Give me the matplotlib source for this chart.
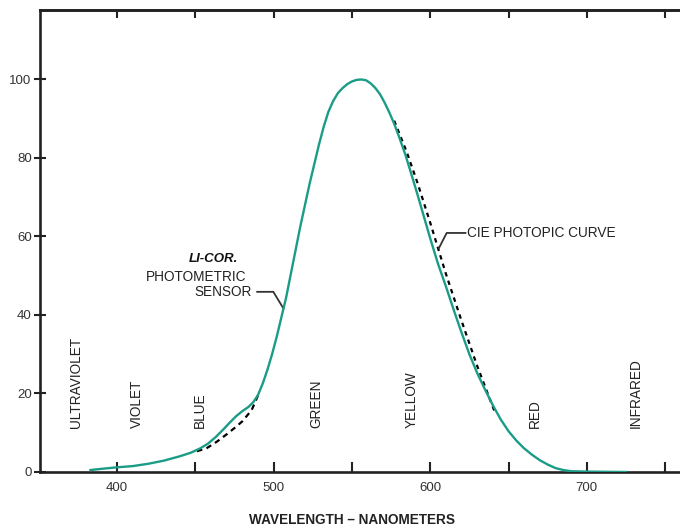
import matplotlib
matplotlib.use("Agg")
import matplotlib.pyplot as plt

plt.rcParams["font.family"] = ["Liberation Sans", "DejaVu Sans"]

# LI-COR photometric sensor response
sensor_nm = [383, 390, 400, 410, 420, 430, 440, 447, 453, 458, 463, 468, 472, 476,
             480, 484, 487, 490, 493, 496, 499, 502, 505, 508, 511, 514, 517, 520,
             523, 526, 529, 532, 535, 538, 541, 544, 547, 550, 553, 556, 559, 562,
             565, 568, 571, 574, 577, 580, 584, 588, 592, 596, 600, 605, 610, 615,
             620, 625, 630, 635, 640, 645, 650, 655, 660, 665, 670, 675, 680, 685,
             690, 700, 725]
sensor_val = [0.5, 0.8, 1.2, 1.5, 2.1, 2.9, 4.0, 4.9, 6.0, 7.2, 8.9, 10.9, 12.6, 14.2,
              15.5, 16.6, 17.8, 19.6, 22.5, 26.0, 30.0, 34.5, 39.5, 44.5, 50.5, 56.5, 62.5, 68.0,
              73.5, 78.5, 83.5, 88.0, 91.8, 94.5, 96.5, 97.8, 98.8, 99.5, 99.9, 100.0, 99.8, 99.0,
              97.8, 96.2, 94.0, 91.5, 88.7, 85.5, 81.0, 75.8, 70.5, 65.0, 59.5, 53.0, 47.3, 41.3,
              35.5, 30.0, 25.2, 21.0, 17.0, 13.4, 10.4, 8.0, 6.0, 4.4, 3.0, 1.9, 1.0, 0.5,
              0.2, 0.1, 0.0]

# CIE photopic curve, only drawn where it departs from the sensor curve
cie_low_nm = [451, 457, 464, 470, 475, 480, 486, 490]
cie_low_val = [5.3, 6.0, 7.8, 9.6, 11.2, 12.9, 15.8, 19.5]
cie_high_nm = [577, 585, 592, 600, 610, 620, 630, 641]
cie_high_val = [89.5, 81.5, 73.5, 63.5, 50.5, 38.5, 27.0, 15.5]

bands = ["ULTRAVIOLET", "VIOLET", "BLUE", "GREEN", "YELLOW", "RED", "INFRARED"]
band_nm = [374, 412.5, 453, 527.5, 588, 667, 731]

teal = "#1a9c86"
ink = "#222222"

fig = plt.figure(figsize=(6.8, 5.29), dpi=100)
ax = fig.add_axes([40 / 680, 57 / 529, 640 / 680, 462 / 529])

ax.plot(sensor_nm, sensor_val, color=teal, lw=1.7, zorder=3)
ax.plot(cie_low_nm, cie_low_val, color="black", lw=1.6, ls=(0, (2.5, 2.0)), zorder=2)
ax.plot(cie_high_nm, cie_high_val, color="black", lw=1.6, ls=(0, (2.0, 2.0)), zorder=2)

for name, x in zip(bands, band_nm):
    ax.text(x, 11.2, name, rotation=90, ha="center", va="bottom",
            fontsize=9.8, color=ink)

# sensor annotation
ax.text(477.5, 54.3, "LI-COR.", ha="right", va="center", fontsize=9.5,
        fontweight="bold", fontstyle="italic", color="#111111")
ax.text(482.8, 49.8, "PHOTOMETRIC", ha="right", va="center", fontsize=9.8, color=ink)
ax.text(486, 45.9, "SENSOR", ha="right", va="center", fontsize=9.8, color=ink)
ax.plot([489.5, 499.8, 506.2], [45.9, 45.9, 41.7], color="#333333", lw=1.3)

# CIE annotation
ax.plot([605.5, 610.5, 622.5], [57.0, 60.9, 60.9], color="#333333", lw=1.3)
ax.text(623.2, 61.0, "CIE PHOTOPIC CURVE", ha="left", va="center", fontsize=9.8,
        color=ink)

ax.set_xlim(350.8, 759.5)
ax.set_ylim(0, 117.7)

ticks = [400, 450, 500, 550, 600, 650, 700, 750]
ax.set_xticks(ticks)
ax.set_xticklabels(["400", "", "500", "", "600", "", "700", ""])
ax.set_yticks([0, 20, 40, 60, 80, 100])

ax.spines["right"].set_visible(False)
for side in ["left", "top", "bottom"]:
    ax.spines[side].set_linewidth(1.9)
    ax.spines[side].set_color(ink)

ax.tick_params(axis="x", direction="in", length=7, width=1.5, labelsize=9.5,
               labelcolor="#333333", pad=7, color=ink)
ax.tick_params(axis="y", direction="inout", length=8, width=1.5,
               labelsize=9.5, labelcolor="#333333", pad=2, color=ink)

top = ax.secondary_xaxis("top")
top.set_xticks(ticks)
top.tick_params(direction="in", length=6, width=1.5, labeltop=False, color=ink)
top.spines["top"].set_linewidth(1.9)
top.spines["top"].set_color(ink)

fig.text(352 / 680, 1 - 520 / 529, "WAVELENGTH \u2013 NANOMETERS", ha="center", va="center",
         fontsize=9.8, fontweight="bold", color=ink)

fig.savefig("out.png", dpi=100)
